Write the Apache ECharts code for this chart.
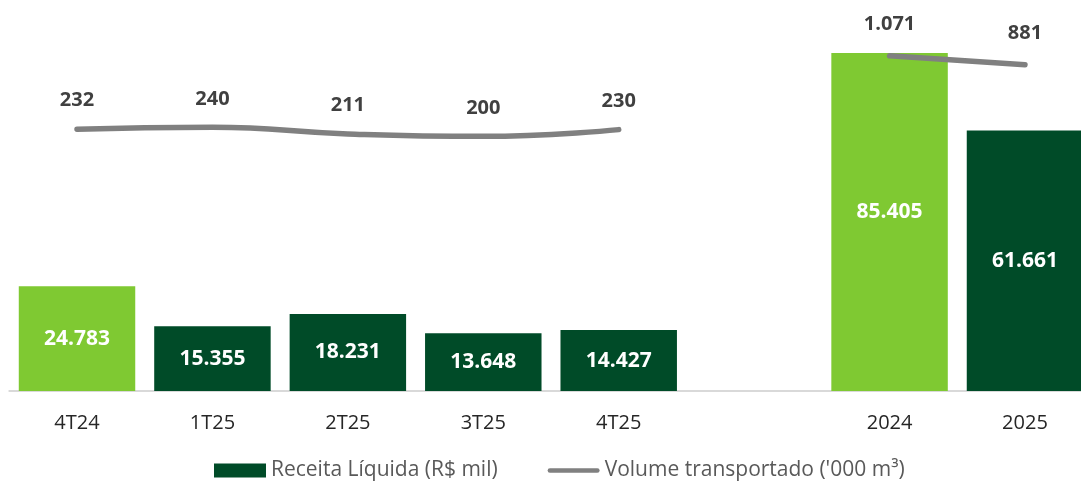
<!DOCTYPE html>
<html>
<head>
<meta charset="utf-8">
<script src="https://cdn.jsdelivr.net/npm/echarts@6/dist/echarts.min.js"></script>
<style>
html,body{margin:0;padding:0;background:#fff;}
#chart{width:1081px;height:482px;}
</style>
</head>
<body>
<div id="chart"></div>
<script>
// ---- data ----
var quarterCats = ['4T24', '1T25', '2T25', '3T25', '4T25'];
var yearCats = ['2024', '2025'];
var revenueQuarter = [24783, 15355, 18231, 13648, 14427];
var revenueYear = [85405, 61661];
var volumeQuarter = [232, 240, 211, 200, 230];
var volumeYear = [1071, 881];
var highlightCats = ['4T24', '2024'];
var revenueName = 'Receita Líquida (R$ mil)';
var volumeName = "Volume transportado ('000 m³)";

// ---- build ----
var FONT = '"Open Sans", "Noto Sans", sans-serif';
var LIGHT = '#7FC932';
var DARK = '#004B28';
var GRAY = '#808080';
var categories = quarterCats.concat(['']).concat(yearCats);
function fmt(v) { return String(v).replace(/\B(?=(\d{3})+(?!\d))/g, '.'); }
var pad = function (n) { var a = []; for (var i = 0; i < n; i++) a.push('-'); return a; };

var revenueAll = revenueQuarter.concat(['-']).concat(revenueYear);
var barData = revenueAll.map(function (v, i) {
  var cat = categories[i];
  var item = { value: v, itemStyle: { color: highlightCats.indexOf(cat) >= 0 ? LIGHT : DARK } };
  if (cat === '2024') item.label = { offset: [0, -10] };
  return item;
});
var volQ = volumeQuarter.concat(pad(1 + yearCats.length));
var volY = pad(quarterCats.length + 1).concat(volumeYear);

function lineLabel(dist) {
  return {
    show: true, position: 'top', distance: dist, color: '#404040', fontWeight: 'bold',
    fontSize: 20, fontFamily: FONT, formatter: function (p) { return fmt(p.value); }
  };
}

var chart = echarts.init(document.getElementById('chart'), null, { renderer: 'canvas' });
chart.setOption({
  animation: false,
  backgroundColor: '#ffffff',
  textStyle: { fontFamily: FONT },
  grid: { left: 9.3, right: -11.7, top: 53, bottom: 91, containLabel: false, outerBoundsMode: 'none' },
  legend: {
    left: 209, top: 455,
    itemWidth: 52, itemHeight: 14, itemGap: 50,
    textStyle: { fontFamily: FONT, fontSize: 21, color: '#595959' },
    data: [
      { name: revenueName, icon: 'rect', itemStyle: { color: DARK } },
      { name: volumeName, icon: 'path://M2.5,0 L54.5,0 A2.5,2.5 0 0 1 54.5,5 L2.5,5 A2.5,2.5 0 0 1 2.5,0 Z', itemStyle: { color: GRAY, opacity: 1 } }
    ]
  },
  xAxis: {
    type: 'category', data: categories,
    axisLine: { show: true, lineStyle: { color: '#D9D9D9', width: 2 } },
    axisTick: { show: false },
    axisLabel: { color: '#262626', fontSize: 20, fontFamily: FONT, margin: 22 },
    splitLine: { show: false }
  },
  yAxis: [
    { type: 'value', min: 0, max: 80000, show: false, splitLine: { show: false } },
    { type: 'value', min: -930, max: 570, show: false, splitLine: { show: false } },
    { type: 'value', min: -6000, max: 1131, show: false, splitLine: { show: false } }
  ],
  series: [
    {
      name: revenueName, type: 'bar', yAxisIndex: 0, barWidth: '86%',
      itemStyle: { color: DARK },
      label: {
        show: true, position: 'inside', color: '#ffffff', fontWeight: 'bold',
        fontSize: 21, fontFamily: FONT, formatter: function (p) { return fmt(p.value); }
      },
      data: barData
    },
    {
      name: volumeName, type: 'line', yAxisIndex: 1, smooth: 0.5,
      symbol: 'circle', symbolSize: 1, showSymbol: true, z: 5,
      lineStyle: { color: GRAY, width: 5.5, cap: 'round' },
      itemStyle: { color: GRAY },
      label: lineLabel(18),
      data: volQ
    },
    {
      name: volumeName, type: 'line', yAxisIndex: 2,
      symbol: 'circle', symbolSize: 1, showSymbol: true, z: 5,
      lineStyle: { color: GRAY, width: 5.5, cap: 'round' },
      itemStyle: { color: GRAY },
      label: lineLabel(21),
      data: volY
    }
  ]
});
</script>
</body>
</html>
